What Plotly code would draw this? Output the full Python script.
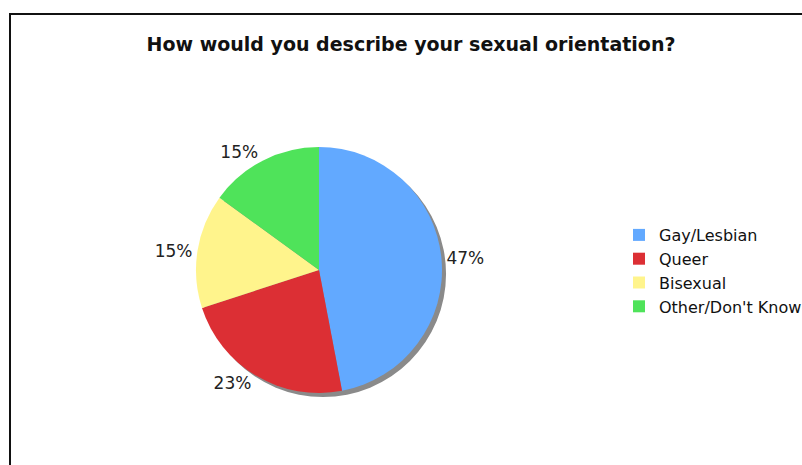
import plotly.graph_objects as go

# Survey answers and their shares (percent)
labels = ["Gay/Lesbian", "Queer", "Bisexual", "Other/Don't Know"]
values = [47, 23, 15, 15]
colors = ["#62A9FF", "#DC2F34", "#FFF48C", "#4FE35A"]
title_text = "How would you describe your sexual orientation?"

W, H = 802, 465

# pie geometry in pixels (centre and radius), converted to paper domains
cx, cy, r = 319, 270, 123
shadow_dx, shadow_dy = 4, 4


def domain(cx_px, cy_px, rad):
    return dict(
        x=[(cx_px - rad) / W, (cx_px + rad) / W],
        y=[1 - (cy_px + rad) / H, 1 - (cy_px - rad) / H],
    )


fig = go.Figure()

# drop shadow behind the pie
fig.add_trace(go.Pie(
    values=[sum(values)],
    labels=["shadow"],
    marker=dict(colors=["#8A8A8A"], line=dict(width=0)),
    domain=domain(cx + shadow_dx, cy + shadow_dy, r),
    textinfo="none",
    hoverinfo="skip",
    showlegend=False,
    sort=False,
))

fig.add_trace(go.Pie(
    labels=labels,
    values=values,
    marker=dict(colors=colors, line=dict(width=0)),
    domain=domain(cx, cy, r),
    sort=False,
    direction="clockwise",
    rotation=0,
    textinfo="percent",
    texttemplate="%{value}%",
    textposition="outside",
    outsidetextfont=dict(family="DejaVu Sans", size=17, color="#222222"),
    showlegend=True,
))

fig.update_layout(
    width=W, height=H,
    margin=dict(l=0, r=0, t=0, b=0, autoexpand=False),
    paper_bgcolor="white",
    plot_bgcolor="white",
    title=dict(
        text="<b>" + title_text + "</b>",
        x=411 / W, xanchor="center",
        y=1 - 44 / H, yanchor="middle",
        font=dict(family="DejaVu Sans", size=19, color="#111111"),
    ),
    legend=dict(
        x=619 / W, xanchor="left",
        y=1 - 218 / H, yanchor="top",
        font=dict(family="DejaVu Sans", size=16, color="#111111"),
        bgcolor="rgba(0,0,0,0)",
        traceorder="normal",
    ),
    shapes=[dict(
        type="rect", xref="paper", yref="paper",
        x0=10 / W, x1=1.05, y0=-0.05, y1=1 - 14 / H,
        line=dict(color="#111111", width=2),
        fillcolor="rgba(0,0,0,0)",
        layer="below",
    )],
)

fig.write_html("out.html")
